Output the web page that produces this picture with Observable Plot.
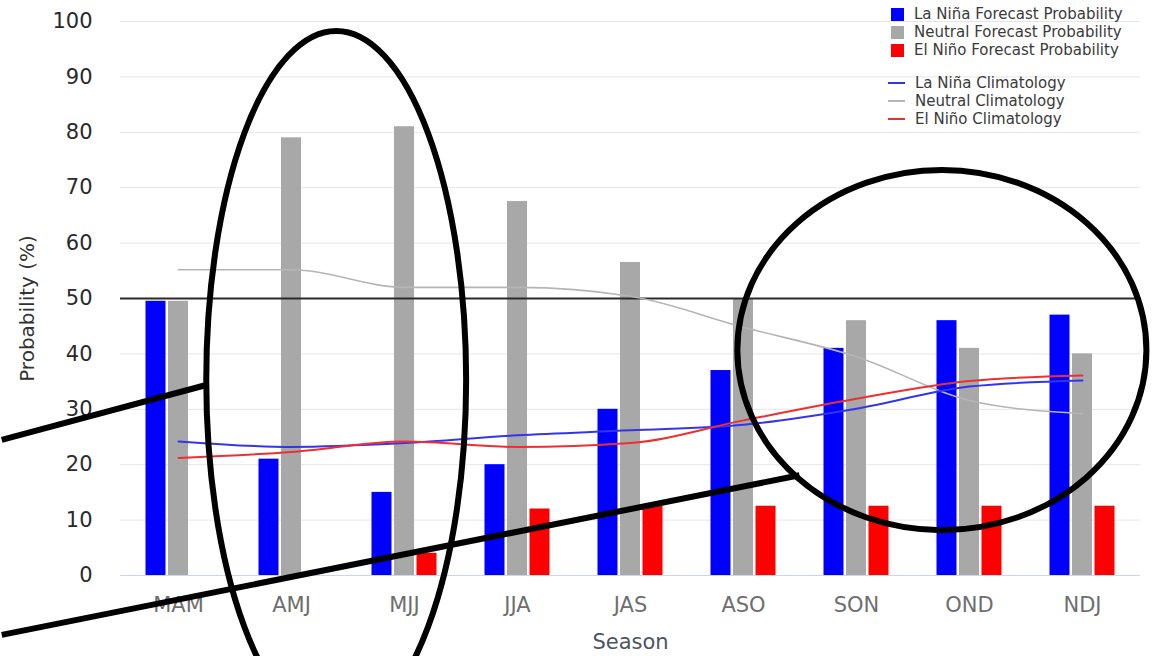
<!DOCTYPE html>
<html>
<head>
<meta charset="utf-8">
<script src="https://cdn.jsdelivr.net/npm/d3@7"></script>
<script src="https://cdn.jsdelivr.net/npm/@observablehq/plot@0.6"></script>
<style>
  html, body { margin: 0; padding: 0; background: #fff; }
  #wrap { position: relative; width: 1153px; height: 656px; overflow: hidden; font-family: "DejaVu Sans", sans-serif; }
  #legend { position: absolute; left: 886px; top: 5px; font-size: 15px; color: #3a3a3a; }
  #legend .row { height: 18px; display: flex; align-items: center; white-space: nowrap; }
  #legend .sw { width: 13px; height: 13px; margin: 0 10px 0 5px; }
  #legend .ln { width: 17px; height: 2px; margin: 0 10px 0 2px; }
  #legend .gap { height: 15px; }
</style>
</head>
<body>
<div id="wrap"><div id="legend"></div></div>
<script>
// ---- data ----
const seasons = ["MAM", "AMJ", "MJJ", "JJA", "JAS", "ASO", "SON", "OND", "NDJ"];
const laNinaProb  = [49.5, 21, 15, 20, 30, 37, 41, 46, 47];
const neutralProb = [49.5, 79, 81, 67.5, 56.5, 50, 46, 41, 40];
const elNinoProb  = [0, 0, 4, 12, 12.5, 12.5, 12.5, 12.5, 12.5];
const laNinaClim  = [24.2, 23.2, 23.9, 25.3, 26.2, 27.2, 30.1, 34.1, 35.2];
const neutralClim = [55.2, 55.2, 52, 52, 50.4, 44.8, 39.5, 31.6, 29.2];
const elNinoClim  = [21.2, 22.3, 24.2, 23.2, 23.9, 28, 31.9, 35.1, 36.1];
const yTicks = [0, 10, 20, 30, 40, 50, 60, 70, 80, 90, 100];
const yTitle = "Probability (%)";
const xTitle = "Season";
const legendBars  = ["La Niña Forecast Probability", "Neutral Forecast Probability", "El Niño Forecast Probability"];
const legendLines = ["La Niña Climatology", "Neutral Climatology", "El Niño Climatology"];
// hand-drawn annotations (in season-index / percent units)
const annotationEllipses = [
  {at: 1.4, value: 35.2, rx: 1.15, ry: 63},
  {at: 6.76, value: 40.6, rx: 1.81, ry: 32.5}
];
const annotationStrokes = [
  {from: [-1.56, 24.4], to: [0.25, 34.3]},
  {from: [-1.56, -10.8], to: [5.5, 18]}
];

const barColors  = ["#0000ff", "#a8a8a8", "#ff0000"];
const lineColors = ["#3434ee", "#b5b5b5", "#ee2f2f"];

const rows = (vals) => seasons.map((s, i) => ({season: s, value: vals[i]}));

function annotations(index, scales) {
  const x = scales.x, y = scales.y;
  const bw = x.bandwidth ? x.bandwidth() : 0;
  const x0 = x(seasons[0]) + bw / 2;
  const step = x(seasons[1]) - x(seasons[0]);
  const px = (i) => x0 + i * step;
  const g = d3.create("svg:g").attr("fill", "none").attr("stroke", "#000").attr("stroke-width", 6);
  for (const e of annotationEllipses) {
    g.append("ellipse")
      .attr("cx", px(e.at)).attr("cy", y(e.value))
      .attr("rx", e.rx * step).attr("ry", Math.abs(y(0) - y(e.ry)));
  }
  for (const s of annotationStrokes) {
    g.append("line")
      .attr("x1", px(s.from[0])).attr("y1", y(s.from[1]))
      .attr("x2", px(s.to[0])).attr("y2", y(s.to[1]));
  }
  return g.node();
}

const chart = Plot.plot({
  width: 1153,
  height: 656,
  marginLeft: 120,
  marginRight: 13,
  marginTop: 21,
  marginBottom: 81,
  style: {fontFamily: "DejaVu Sans, sans-serif", background: "transparent", overflow: "hidden"},
  x: {domain: seasons, paddingInner: 0.8235, paddingOuter: 0.412},
  y: {domain: [0, 100]},
  marks: [
    Plot.gridY(yTicks, {stroke: "#e6e6e6", strokeOpacity: 1}),
    Plot.axisY(yTicks, {tickSize: 0, tickPadding: 28, fontSize: 21, color: "#2a2a2a", label: null}),
    Plot.axisX({tickSize: 0, tickPadding: 22, fontSize: 21, color: "#6e6e6e", label: null}),
    Plot.text([yTitle], {frameAnchor: "left", textAnchor: "middle", rotate: -90, dx: -93, dy: 10, fontSize: 20, fill: "#333"}),
    Plot.text([xTitle], {frameAnchor: "bottom", textAnchor: "middle", dy: 73, fontSize: 21, fill: "#4d5560"}),
    Plot.ruleY([0], {stroke: "#ccd6eb", strokeWidth: 1}),
    Plot.barY(rows(laNinaProb),  {x: "season", y: "value", fill: barColors[0], dx: -22.5}),
    Plot.barY(rows(neutralProb), {x: "season", y: "value", fill: barColors[1]}),
    Plot.barY(rows(elNinoProb),  {x: "season", y: "value", fill: barColors[2], dx: 22.5}),
    Plot.ruleY([50], {stroke: "#2a2a2a", strokeWidth: 2}),
    Plot.lineY(rows(neutralClim), {x: "season", y: "value", stroke: lineColors[1], strokeWidth: 1.6, curve: "monotone-x"}),
    Plot.lineY(rows(laNinaClim),  {x: "season", y: "value", stroke: lineColors[0], strokeWidth: 2, curve: "monotone-x"}),
    Plot.lineY(rows(elNinoClim),  {x: "season", y: "value", stroke: lineColors[2], strokeWidth: 2, curve: "monotone-x"}),
    annotations
  ]
});

const wrap = document.getElementById("wrap");
wrap.insertBefore(chart, wrap.firstChild);

const legend = d3.select("#legend");
legendBars.forEach((t, i) => {
  const r = legend.append("div").attr("class", "row");
  r.append("div").attr("class", "sw").style("background", barColors[i]);
  r.append("span").text(t);
});
legend.append("div").attr("class", "gap");
legendLines.forEach((t, i) => {
  const r = legend.append("div").attr("class", "row");
  r.append("div").attr("class", "ln").style("background", lineColors[i]);
  r.append("span").text(t);
});
</script>
</body>
</html>
